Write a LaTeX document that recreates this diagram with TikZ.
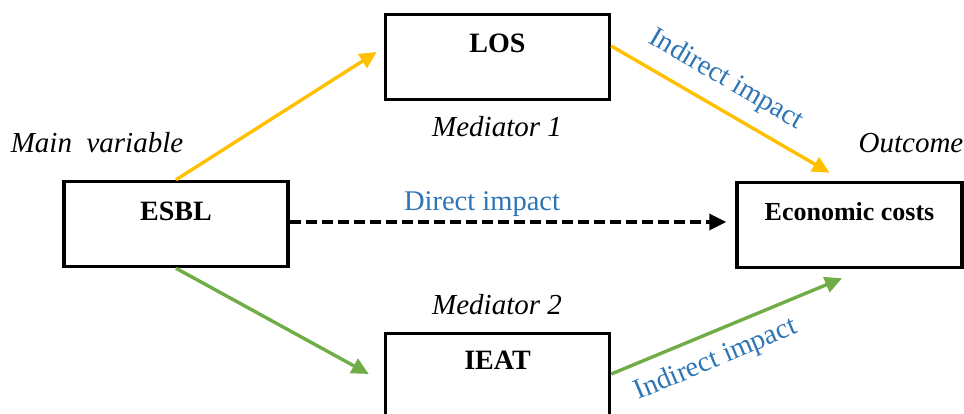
\documentclass[tikz,border=0pt]{standalone}
\usepackage{fontspec}
\setmainfont{Liberation Serif}
\usetikzlibrary{calc,arrows.meta}
\definecolor{cyellow}{HTML}{FFC000}
\definecolor{cgreen}{HTML}{70AD47}
\definecolor{cblue}{HTML}{2E75B6}
\begin{document}
\begin{tikzpicture}[x=1pt,y=-1pt,
 box/.style={draw=black,line width=3.5pt,minimum width=224pt,minimum height=85pt,inner sep=0pt},
 boxtext/.style={font=\fontsize{28}{32}\selectfont\bfseries, inner sep=0pt},
 ital/.style={font=\fontsize{29}{33}\selectfont\itshape, inner sep=0pt},
 impact/.style={font=\fontsize{28.5}{32}\selectfont, text=cblue, inner sep=0pt},
 arr/.style={line width=3.4pt,-{Triangle[length=17pt,width=16pt]}},
]
\useasboundingbox (0,0) rectangle (964,414);
\clip (0,0) rectangle (964,414);
% boxes
\node[box] (esbl) at (176,224) {};
\node[box] (los) at (497.5,57) {};
\node[box] (ieat) at (497.5,376) {};
\node[box,minimum width=225pt] (econ) at (849.5,225) {};
% box texts
\node[boxtext] (tesbl) at (176,211) {ESBL};
\node[boxtext] (tlos) at (497.5,43) {LOS};
\node[boxtext] (tieat) at (497.5,360) {IEAT};
\node[boxtext,font=\fontsize{26}{30}\selectfont\bfseries] (tecon) at (849.5,212) {Economic costs};
% italic labels
\node[ital] (lmain) at (97,143) {Main\ \ variable};
\node[ital] (lmed1) at (497,127) {Mediator 1};
\node[ital] (lout) at (911,143) {Outcome};
\node[ital] (lmed2) at (497,305) {Mediator 2};
% impact labels
\node[impact] (ldirect) at (482,204) {Direct impact};
\node[impact,rotate=-30.3] (lind1) at (726,80) {Indirect impact};
\node[impact,rotate=22.7] (lind2) at (716,360) {Indirect impact};
% arrows
\draw[arr,cyellow] (esbl.north) -- ($(los.west)+(-7,-5)$);
\draw[arr,cyellow] ($(los.east)+(0,-11)$) -- ($(econ.north)+(-20,-8)$);
\draw[arr,cgreen] (esbl.south) -- ($(ieat.west)+(-15,-2)$);
\draw[arr,cgreen] ($(ieat.east)+(0,-2)$) -- ($(econ.south)+(-7.5,9)$);
\draw[arr,black,dash pattern=on 11pt off 5pt] ($(esbl.east)+(0,-2)$) -- ($(econ.west)+(-9,-3)$);
\end{tikzpicture}
\end{document}
